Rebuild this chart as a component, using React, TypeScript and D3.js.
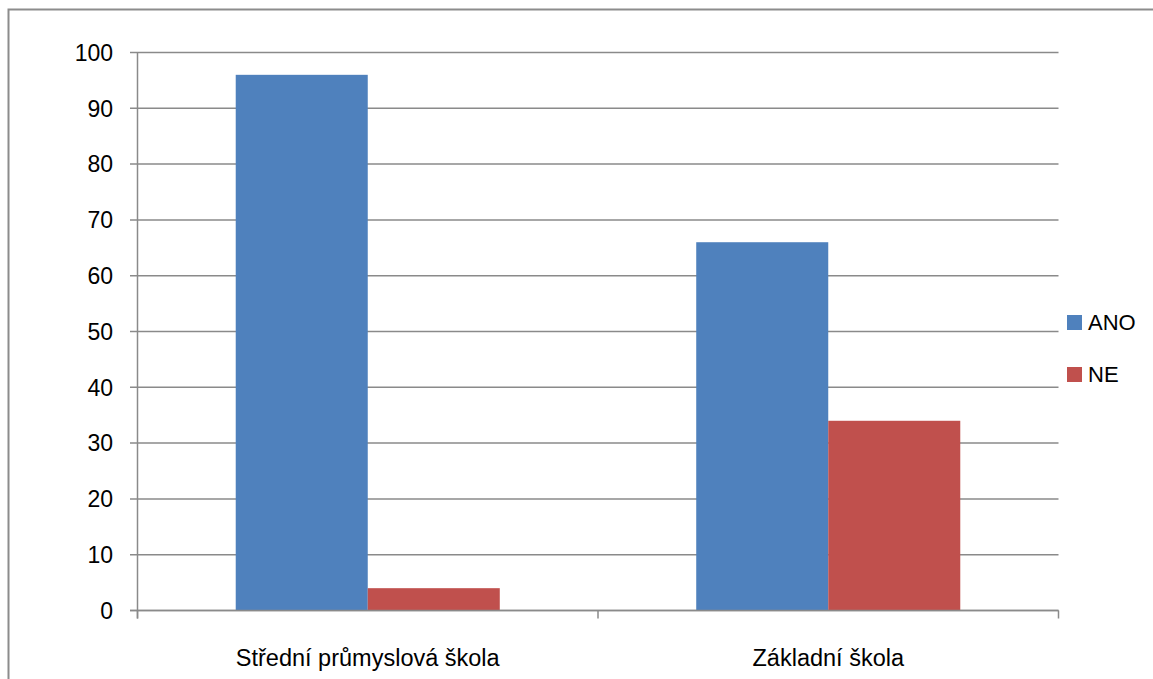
import React from 'react';
import * as d3 from 'd3';

const categories = ['Střední průmyslová škola', 'Základní škola'];
const seriesNames = ['ANO', 'NE'];
const anoValues = [96, 66];
const neValues = [4, 34];
const yTicks = [0, 10, 20, 30, 40, 50, 60, 70, 80, 90, 100];
const colors = ['#4F81BD', '#C0504D'];

const W = 1153;
const H = 679;
const left = 137.5;
const right = 1058.5;
const top = 52.5;
const bottom = 610.5;
const font = '"Liberation Sans", Arial, sans-serif';
const gridColor = '#8a8a8a';

const App = () => {
  const x = d3.scaleBand<string>().domain(categories).range([left, right]).padding(0);
  const xs = d3.scaleBand<string>().domain(seriesNames).range([0, x.bandwidth()]).paddingInner(0).paddingOuter(0.744);
  const y = d3.scaleLinear().domain([0, 100]).range([bottom, top]);
  const values = [anoValues, neValues];

  return (
    <svg width={W} height={H} style={{ position: 'absolute', left: 0, top: 0, background: '#fff' }} fontFamily={font}>
      <rect x={8.5} y={9.5} width={W + 10} height={H + 10} fill="none" stroke="#8c8c8c" strokeWidth={2} />

      {yTicks.map((t) => (
        <g key={t}>
          <line x1={130} x2={right} y1={y(t)} y2={y(t)} stroke={gridColor} strokeWidth={1.5} />
          <text x={113} y={y(t)} dy="0.36em" textAnchor="end" fontSize={23} fill="#000">
            {t}
          </text>
        </g>
      ))}

      {categories.map((c, ci) =>
        seriesNames.map((s, si) => (
          <rect
            key={c + s}
            x={(x(c) as number) + (xs(s) as number)}
            y={y(values[si][ci])}
            width={xs.bandwidth()}
            height={bottom - y(values[si][ci])}
            fill={colors[si]}
          />
        ))
      )}

      <line x1={left} x2={left} y1={top} y2={bottom + 8} stroke={gridColor} strokeWidth={1.5} />
      <line x1={130} x2={right} y1={bottom} y2={bottom} stroke={gridColor} strokeWidth={1.5} />
      {[...categories.map((c) => x(c) as number), right].map((v, i) => (
        <line key={i} x1={v} x2={v} y1={bottom} y2={bottom + 8} stroke={gridColor} strokeWidth={1.5} />
      ))}

      {categories.map((c) => (
        <text key={c} x={(x(c) as number) + x.bandwidth() / 2} y={666} textAnchor="middle" fontSize={23.5} fill="#000">
          {c}
        </text>
      ))}

      {seriesNames.map((s, i) => (
        <g key={s} transform={`translate(1067,${315 + i * 52})`}>
          <rect width={15} height={15} fill={colors[i]} />
          <text x={21} y={7.5} dy="0.36em" fontSize={22} fill="#000">
            {s}
          </text>
        </g>
      ))}
    </svg>
  );
};

export default App;
